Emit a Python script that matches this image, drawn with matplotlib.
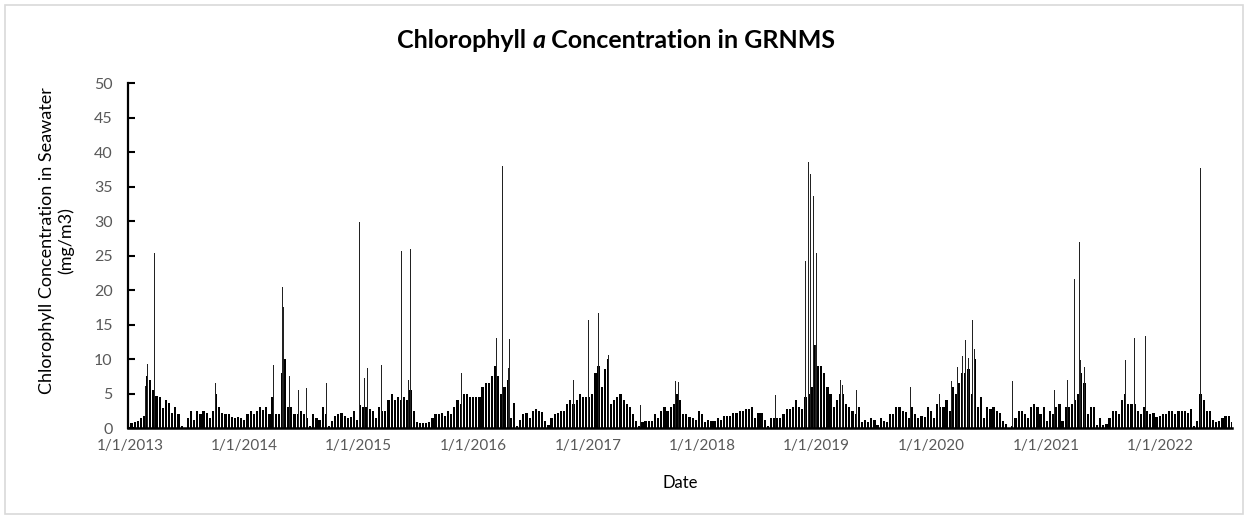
import matplotlib
matplotlib.use("Agg")
import matplotlib.pyplot as plt
import matplotlib.dates as mdates
import numpy as np
from matplotlib.patches import Rectangle

plt.rcParams['font.family'] = ['Lato', 'DejaVu Sans']

# chlorophyll level, one value per 10-day step from 1/1/2013
start = np.datetime64('2013-01-01')
chl = [
    0.7, 0.8, 1.0, 1.5, 1.8, 7.5, 7.0, 5.5, 4.6, 4.5,
    2.9, 4.0, 3.6, 2.2, 3.0, 2.0, 0.3, 0.0, 1.5, 2.5,
    1.2, 2.5, 2.0, 2.4, 2.2, 1.5, 2.5, 5.0, 3.0, 2.2,
    2.0, 2.0, 1.6, 1.4, 1.6, 1.4, 1.2, 2.0, 2.5, 2.0,
    2.5, 3.0, 2.6, 3.0, 2.0, 4.5, 2.0, 2.0, 8.0, 10.0,
    3.0, 3.0, 2.0, 2.0, 2.5, 2.0, 1.5, 0.3, 2.0, 1.5,
    1.2, 3.0, 2.0, 0.3, 1.0, 1.7, 2.0, 2.2, 1.8, 1.5,
    1.6, 2.5, 1.2, 3.4, 3.0, 3.0, 2.7, 2.5, 1.5, 3.0,
    2.5, 2.4, 4.0, 5.0, 4.0, 4.5, 4.0, 4.5, 4.0, 5.5,
    2.5, 0.8, 0.7, 0.7, 0.7, 0.8, 1.5, 2.0, 2.0, 2.2,
    1.8, 2.5, 2.0, 3.0, 4.0, 3.5, 5.0, 5.0, 4.5, 4.5,
    4.5, 4.5, 6.0, 6.5, 6.5, 7.5, 9.0, 7.5, 5.0, 6.0,
    7.0, 1.5, 3.6, 0.3, 1.2, 2.0, 2.2, 1.5, 2.5, 2.8,
    2.5, 2.3, 1.0, 0.5, 1.5, 2.0, 2.2, 2.5, 2.5, 3.5,
    4.0, 3.5, 4.0, 5.0, 4.5, 4.5, 4.5, 5.0, 8.0, 9.0,
    6.0, 8.5, 10.0, 3.5, 4.0, 4.5, 5.0, 4.0, 3.5, 3.0,
    2.0, 1.0, 0.3, 0.8, 1.0, 1.0, 1.0, 2.0, 1.5, 2.5,
    3.0, 2.5, 3.0, 3.5, 5.0, 4.0, 2.0, 2.0, 1.6, 1.5,
    1.2, 2.5, 2.0, 0.8, 1.2, 1.0, 1.0, 1.5, 1.2, 1.7,
    1.8, 1.8, 2.2, 2.2, 2.4, 2.4, 2.8, 2.8, 3.0, 1.5,
    2.2, 2.2, 1.2, 0.3, 1.5, 1.5, 1.4, 1.5, 2.0, 2.8,
    2.8, 3.0, 4.0, 3.0, 2.8, 4.5, 5.0, 6.0, 12.0, 9.0,
    9.0, 8.0, 6.0, 5.0, 3.0, 4.0, 5.0, 5.0, 3.5, 3.0,
    2.5, 2.0, 3.0, 0.8, 1.2, 0.9, 1.5, 1.2, 0.5, 1.5,
    1.0, 0.8, 2.0, 2.0, 3.0, 3.0, 2.5, 2.3, 1.5, 3.0,
    2.0, 1.5, 1.8, 1.6, 3.0, 2.5, 1.5, 3.5, 3.0, 3.0,
    4.0, 2.5, 6.0, 5.0, 6.5, 8.0, 8.0, 8.5, 5.0, 10.0,
    3.0, 4.5, 1.5, 3.0, 2.8, 3.0, 2.5, 2.2, 1.0, 0.6,
    0.0, 0.3, 1.5, 2.5, 2.5, 2.0, 1.5, 3.0, 3.5, 3.0,
    2.0, 3.0, 1.0, 2.5, 2.0, 3.0, 3.5, 1.0, 3.0, 3.0,
    3.5, 4.0, 5.0, 8.0, 6.5, 2.0, 3.0, 3.0, 0.5, 1.5,
    0.5, 0.6, 1.5, 2.5, 2.5, 2.0, 4.0, 5.0, 3.5, 3.5,
    3.5, 2.5, 2.0, 3.0, 2.5, 2.0, 2.2, 1.6, 1.8, 2.0,
    2.0, 2.5, 2.5, 2.0, 2.5, 2.5, 2.5, 2.2, 2.8, 0.3,
    1.0, 5.0, 4.0, 2.5, 2.5, 1.2, 0.8, 1.0, 1.5, 1.8,
    1.8, 0.9,
]

# single-day peaks
peak_dates = [
    '2013-02-19', '2013-02-25', '2013-03-06', '2013-03-20', '2013-03-22',
    '2013-08-16', '2013-10-01', '2014-03-24', '2014-04-03', '2014-05-02',
    '2014-05-07', '2014-05-26', '2014-06-22', '2014-07-19', '2014-09-19',
    '2015-01-03', '2015-01-19', '2015-01-30', '2015-03-15', '2015-05-18',
    '2015-06-08', '2015-06-14', '2015-11-25', '2015-12-06', '2016-02-01',
    '2016-03-14', '2016-03-16', '2016-04-04', '2016-04-22', '2016-04-26',
    '2016-11-17', '2017-01-03', '2017-02-04', '2017-02-28', '2017-03-07',
    '2017-04-20', '2017-06-17', '2017-10-07', '2017-10-18', '2018-08-22',
    '2018-09-22', '2018-11-26', '2018-12-05', '2018-12-12', '2018-12-21',
    '2018-12-27', '2018-12-30', '2019-01-18', '2019-03-17', '2019-03-25',
    '2019-05-08', '2019-10-26', '2020-01-28', '2020-03-07', '2020-03-25',
    '2020-04-11', '2020-04-19', '2020-04-29', '2020-05-07', '2020-05-13',
    '2020-05-18', '2020-06-08', '2020-09-17', '2021-01-28', '2021-03-11',
    '2021-03-25', '2021-04-01', '2021-04-18', '2021-04-21', '2021-05-04',
    '2021-09-01', '2021-09-12', '2021-10-11', '2021-11-14', '2022-05-09',
    '2022-05-14',
]
peak_vals = [
    6.1, 9.3, 15.9, 25.4, 38.8,
    12.6, 6.5, 8.0, 9.2, 20.5,
    17.6, 7.5, 5.5, 5.8, 6.5,
    29.8, 7.2, 8.7, 9.2, 25.7,
    7.0, 25.9, 8.0, 8.5, 8.2,
    19.8, 13.0, 38.0, 8.7, 12.9,
    7.0, 15.7, 16.7, 13.0, 10.6,
    8.7, 3.4, 6.8, 6.7, 4.8,
    9.4, 24.2, 38.6, 36.8, 33.6,
    12.0, 25.3, 14.0, 7.0, 6.3,
    5.5, 6.0, 4.9, 6.8, 8.9,
    10.4, 12.8, 10.1, 43.1, 15.7,
    11.4, 6.8, 6.8, 5.5, 7.0,
    18.1, 21.6, 27.0, 9.9, 8.9,
    9.4, 9.9, 13.0, 13.4, 37.7,
    11.1,
]

years = np.arange(2013, 2023)

fig = plt.figure(figsize=(12.49, 5.19), dpi=100)
ax = fig.add_axes([0.1025, 0.1753, 0.884, 0.6647])

dates = start + np.arange(len(chl)) * 10 + 5
ax.bar(dates.astype('datetime64[D]').astype(object), chl, width=7, color='black', linewidth=0)
pk = np.array(peak_dates, dtype='datetime64[D]')
ax.bar(pk.astype(object), peak_vals, width=2.5, color='#222222', linewidth=0)

ax.set_xlim(mdates.date2num(start - 6), mdates.date2num(start + 3516))
ax.set_ylim(0, 50)
ax.set_yticks(np.arange(0, 51, 5))

ticks = [np.datetime64('%d-01-01' % y) for y in years]
ax.set_xticks([mdates.date2num(t) for t in ticks])
ax.set_xticklabels(['1/1/%d' % y for y in years])
ax.tick_params(axis='x', length=0, pad=8, labelsize=11, labelcolor='#595959')
ax.tick_params(axis='y', direction='in', length=5, width=1.5, pad=11,
               labelsize=11.5, labelcolor='#595959')

for s in ['top', 'right']:
    ax.spines[s].set_visible(False)
ax.spines['left'].set_linewidth(1.6)
ax.spines['bottom'].set_linewidth(1.8)

ax.set_xlabel('Date', fontsize=12, labelpad=16)
fig.text(0.045, 0.537, 'Chlorophyll Concentration in Seawater\n(mg/m3)',
         rotation=90, ha='center', va='center', fontsize=13,
         multialignment='center', linespacing=1.2)

# title with italic "a"
fig.canvas.draw()
r = fig.canvas.get_renderer()
parts = [('Chlorophyll ', 'normal'), ('a', 'italic'), (' Concentration in GRNMS', 'normal')]
txts = [fig.text(0, 0.922, p, fontsize=18, fontweight='bold', style=st, va='center')
        for p, st in parts]
widths = [t.get_window_extent(r).width for t in txts]
x = (616 - sum(widths) / 2) / 1249
for t, w in zip(txts, widths):
    t.set_x(x)
    x += w / 1249

fig.patches.append(Rectangle((0.004, 0.01), 0.991, 0.98, transform=fig.transFigure,
                             fill=False, edgecolor='#d9d9d9', linewidth=1.2))

fig.savefig('out.png', dpi=100)
